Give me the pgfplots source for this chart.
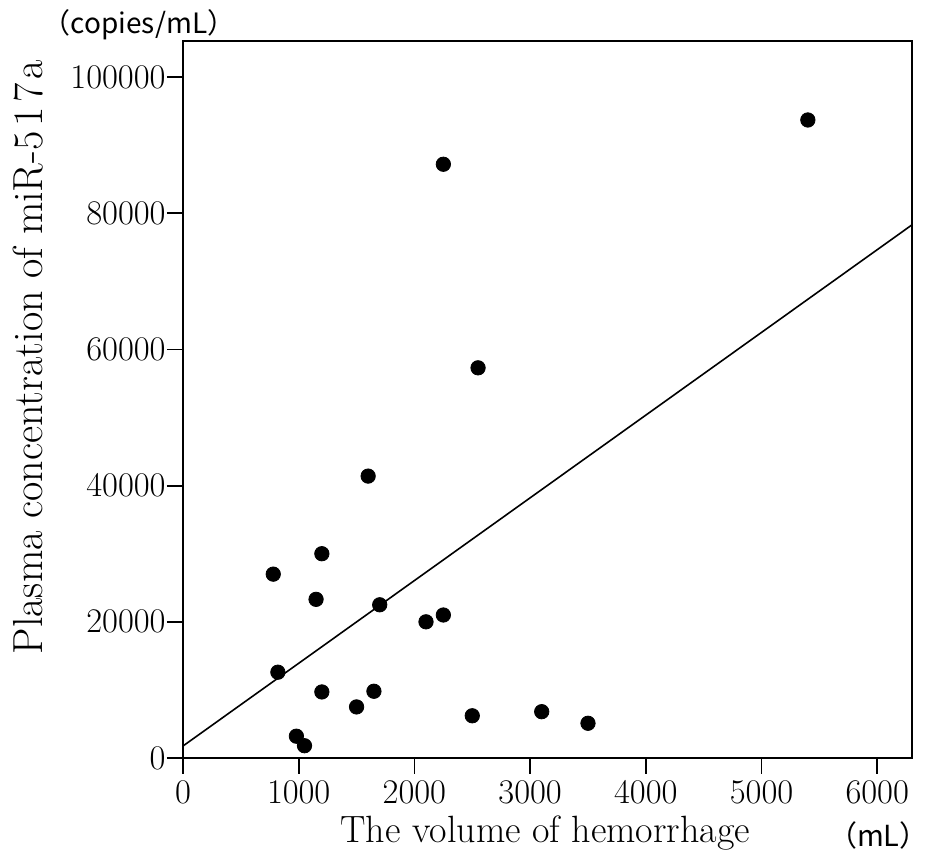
\documentclass[border=0pt]{standalone}
\usepackage{fontspec}
\usepackage{pgfplots}
\pgfplotsset{compat=1.18}
\newfontfamily\jpfont{Noto Sans CJK JP}
\begin{document}
\begin{tikzpicture}
\useasboundingbox (-91.5pt,-49pt) rectangle (372.5pt,379pt);
\begin{axis}[
  at={(0,0)}, anchor=south west,
  scale only axis,
  width=364.5pt, height=358.5pt,
  xmin=0, xmax=6300, ymin=0, ymax=105300,
  xtick={0,1000,...,6000},
  ytick={0,20000,40000,60000,80000,100000},
  scaled x ticks=false, scaled y ticks=false,
  xticklabel style={/pgf/number format/fixed,/pgf/number format/1000 sep={}},
  yticklabel style={/pgf/number format/fixed,/pgf/number format/1000 sep={}, inner sep=0.5pt},
  tick label style={font=\fontsize{17.5}{21}\selectfont},
  tick align=outside,
  xtick pos=bottom, ytick pos=left,
  major tick length=8pt,
  tick style={black, line width=0.9pt},
  axis line style={line width=1pt},
  xlabel={The volume of hemorrhage},
  ylabel={Plasma concentration of miR-5\hspace{0.12em}1\hspace{0.12em}7\hspace{0.08em}a},
  xlabel style={at={(axis description cs:0.497,-0.1046)}, anchor=center, font=\fontsize{19}{23}\selectfont},
  ylabel style={at={(axis description cs:-0.2126,0.559)}, anchor=center, font=\fontsize{21}{25}\selectfont},
  clip=false,
]
\addplot[only marks, mark=*, mark size=3.6pt, black] coordinates {
(780,27000) (820,12600) (1200,30000) (1150,23300) (1200,9700)
(980,3200) (1050,1800) (1500,7500) (1650,9800) (1600,41400)
(1700,22500) (2100,20000) (2250,21000) (2250,87200) (2550,57300)
(2500,6200) (3100,6800) (3500,5100) (5400,93700)
};
\addplot[black, line width=0.8pt] coordinates {(0,1760) (6300,78300)};
\end{axis}
\node[font=\jpfont\fontsize{14}{16}\selectfont, anchor=center] at (-22pt,366.5pt) {（copies/mL）};
\node[font=\jpfont\fontsize{14.5}{17}\selectfont, anchor=east, inner sep=0pt] at (373pt,-38.5pt) {（mL）};
\end{tikzpicture}
\end{document}
